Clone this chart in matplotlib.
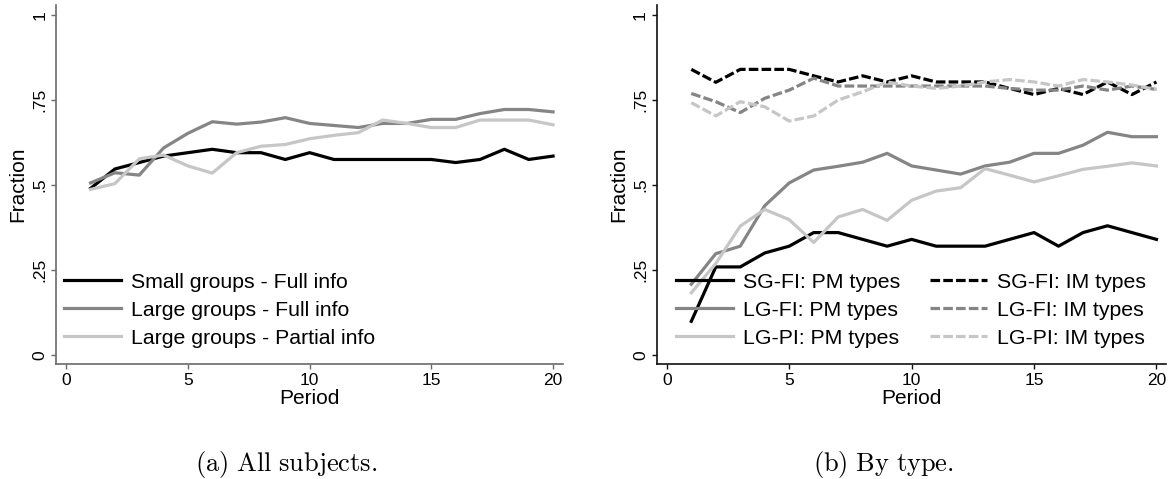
import matplotlib
matplotlib.use("Agg")
import matplotlib.pyplot as plt

plt.rcParams["font.family"] = ["Liberation Sans", "DejaVu Sans"]
plt.rcParams["mathtext.fontset"] = "cm"

periods = list(range(1, 21))

# panel (a): all subjects
sg_fi = [0.490, 0.547, 0.566, 0.585, 0.595, 0.605, 0.595, 0.595, 0.575, 0.595,
         0.575, 0.575, 0.575, 0.575, 0.575, 0.566, 0.575, 0.605, 0.575, 0.585]
lg_fi = [0.506, 0.536, 0.529, 0.609, 0.652, 0.686, 0.679, 0.685, 0.698, 0.681,
         0.675, 0.669, 0.681, 0.681, 0.693, 0.693, 0.710, 0.722, 0.722, 0.715]
lg_pi = [0.487, 0.504, 0.577, 0.588, 0.556, 0.535, 0.595, 0.614, 0.619, 0.636,
         0.646, 0.654, 0.691, 0.681, 0.669, 0.669, 0.691, 0.691, 0.691, 0.677]

# panel (b): by type
sg_fi_pm = [0.099, 0.259, 0.259, 0.300, 0.320, 0.360, 0.360, 0.340, 0.320, 0.340,
            0.320, 0.320, 0.320, 0.340, 0.360, 0.320, 0.360, 0.380, 0.360, 0.340]
lg_fi_pm = [0.208, 0.298, 0.320, 0.439, 0.506, 0.544, 0.555, 0.567, 0.593, 0.556,
            0.544, 0.532, 0.556, 0.567, 0.593, 0.593, 0.617, 0.655, 0.642, 0.642]
lg_pi_pm = [0.183, 0.269, 0.379, 0.428, 0.398, 0.331, 0.406, 0.428, 0.396, 0.455,
            0.482, 0.492, 0.548, 0.529, 0.509, 0.527, 0.546, 0.555, 0.565, 0.556]
sg_fi_im = [0.840, 0.802, 0.840, 0.840, 0.840, 0.821, 0.803, 0.821, 0.803, 0.821,
            0.803, 0.803, 0.803, 0.784, 0.766, 0.784, 0.766, 0.803, 0.766, 0.803]
lg_fi_im = [0.769, 0.745, 0.713, 0.755, 0.779, 0.814, 0.791, 0.791, 0.791, 0.791,
            0.791, 0.791, 0.791, 0.784, 0.779, 0.779, 0.791, 0.779, 0.791, 0.781]
lg_pi_im = [0.742, 0.703, 0.745, 0.730, 0.688, 0.703, 0.750, 0.774, 0.803, 0.791,
            0.784, 0.791, 0.803, 0.810, 0.803, 0.791, 0.810, 0.803, 0.794, 0.781]

yticks = [0, 0.25, 0.5, 0.75, 1]
ytick_labels = ["0", ".25", ".5", ".75", "1"]
xticks = [0, 5, 10, 15, 20]

BLACK, DARK, LIGHT = "#000000", "#858585", "#c6c6c6"
LW = 2.3
DASH = (3.0, 1.0)

fig = plt.figure(figsize=(11.72, 4.79), dpi=100)
ax1 = fig.add_axes([0.0482, 0.2401, 0.4322, 0.7495])
ax2 = fig.add_axes([0.5606, 0.2401, 0.4347, 0.7495])


def style(ax, spine_color):
    ax.set_xlim(-0.40, 20.41)
    ax.set_ylim(-0.0265, 1.0294)
    for s in ["top", "right"]:
        ax.spines[s].set_visible(False)
    for s in ["left", "bottom"]:
        ax.spines[s].set_color(spine_color)
        ax.spines[s].set_linewidth(1.2)
    ax.set_xticks(xticks)
    ax.set_yticks(yticks)
    ax.set_yticklabels(ytick_labels, rotation=90, va="center")
    ax.tick_params(direction="out", length=3.5, width=1.0, color=spine_color,
                   labelsize=12.5, pad=3)
    ax.set_xlabel("Period", fontsize=15, labelpad=1)
    ax.set_ylabel("Fraction", fontsize=15, labelpad=3.5)


legend_kw = dict(loc="upper left", frameon=False, fontsize=15.3,
                 handlelength=2.7, handletextpad=0.45, labelspacing=0.42,
                 borderpad=0, borderaxespad=0)

style(ax1, "#6a6a6a")
ax1.plot(periods, sg_fi, color=BLACK, lw=LW, label="Small groups - Full info")
ax1.plot(periods, lg_fi, color=DARK, lw=LW, label="Large groups - Full info")
ax1.plot(periods, lg_pi, color=LIGHT, lw=LW, label="Large groups - Partial info")
ax1.legend(bbox_to_anchor=(0.015, 0.254), **legend_kw)

style(ax2, "#111111")
ax2.plot(periods, sg_fi_pm, color=BLACK, lw=LW, label="SG-FI: PM types")
ax2.plot(periods, lg_fi_pm, color=DARK, lw=LW, label="LG-FI: PM types")
ax2.plot(periods, lg_pi_pm, color=LIGHT, lw=LW, label="LG-PI: PM types")
ax2.plot(periods, sg_fi_im, color=BLACK, lw=LW, dashes=DASH, label="SG-FI: IM types")
ax2.plot(periods, lg_fi_im, color=DARK, lw=LW, dashes=DASH, label="LG-FI: IM types")
ax2.plot(periods, lg_pi_im, color=LIGHT, lw=LW, dashes=DASH, label="LG-PI: IM types")
ax2.legend(bbox_to_anchor=(0.037, 0.254), ncol=2, columnspacing=1.4, **legend_kw)

fig.text(286 / 1172, 1 - 465 / 479, r"$\mathrm{(a)\ All\ subjects.}$",
         ha="center", va="center", fontsize=19)
fig.text(883 / 1172, 1 - 465 / 479, r"$\mathrm{(b)\ By\ type.}$",
         ha="center", va="center", fontsize=19)

fig.savefig("out.png", dpi=100)
